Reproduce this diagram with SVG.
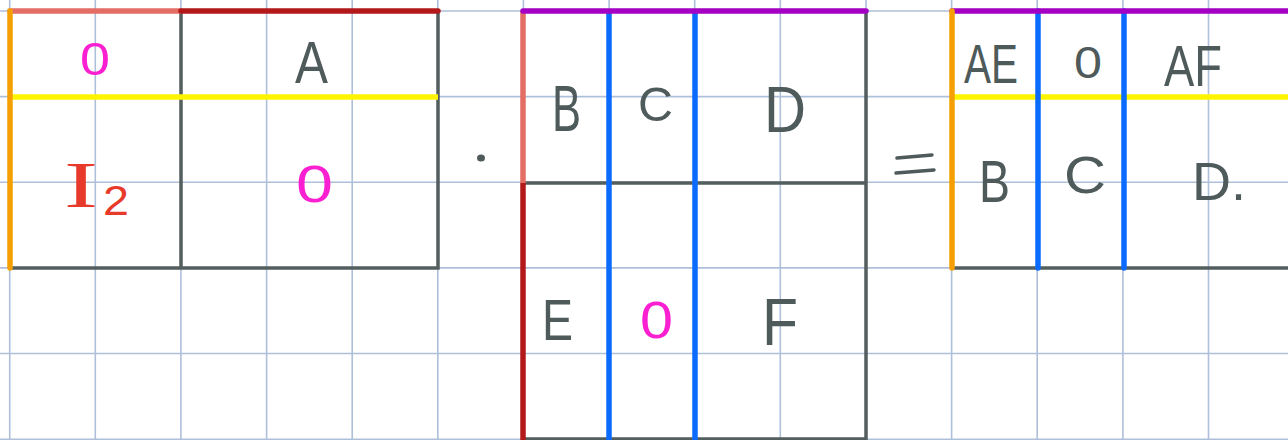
<svg xmlns="http://www.w3.org/2000/svg" width="1288" height="440" viewBox="0 0 1288 440">
<style>
.grid line{stroke:#aebfda;stroke-width:1.6}
.k{stroke:#535e5e;stroke-width:3.5;stroke-linecap:square;fill:none}
.w{stroke-width:5.5;stroke-linecap:round;fill:none}
.or{stroke:#f5a000}.ye{stroke:#fff400}.sa{stroke:#e46d66}.dr{stroke:#b3191b}.pu{stroke:#a300c4}.bl{stroke:#0b6bff}
text{font-family:"Liberation Sans",Arial,sans-serif;fill:#4f5a5a}
.m{fill:#fb1fd2}.r{fill:#e83a2a}
</style>
<rect width="1288" height="440" fill="#ffffff"/>
<g class="grid" id="grid">
<line x1="9.7" y1="0" x2="9.7" y2="440"/><line x1="95.3" y1="0" x2="95.3" y2="440"/><line x1="180.9" y1="0" x2="180.9" y2="440"/><line x1="266.6" y1="0" x2="266.6" y2="440"/><line x1="352.2" y1="0" x2="352.2" y2="440"/><line x1="437.8" y1="0" x2="437.8" y2="440"/><line x1="523.4" y1="0" x2="523.4" y2="440"/><line x1="609.1" y1="0" x2="609.1" y2="440"/><line x1="694.7" y1="0" x2="694.7" y2="440"/><line x1="780.3" y1="0" x2="780.3" y2="440"/><line x1="866" y1="0" x2="866" y2="440"/><line x1="951.6" y1="0" x2="951.6" y2="440"/><line x1="1037.2" y1="0" x2="1037.2" y2="440"/><line x1="1122.9" y1="0" x2="1122.9" y2="440"/><line x1="1208.5" y1="0" x2="1208.5" y2="440"/>
<line x1="0" y1="11" x2="1288" y2="11"/><line x1="0" y1="96.6" x2="1288" y2="96.6"/><line x1="0" y1="182.3" x2="1288" y2="182.3"/><line x1="0" y1="267.9" x2="1288" y2="267.9"/><line x1="0" y1="353.5" x2="1288" y2="353.5"/><line x1="0" y1="439.2" x2="1288" y2="439.2"/>
</g>
<g id="matrix1">
<path class="k" d="M10,268 H438 V11 M181,11 V268"/>
<line class="w ye" x1="10" y1="97" x2="438" y2="97" style="stroke-linecap:butt"/>
<line class="w sa" x1="10" y1="11" x2="181" y2="11"/>
<line class="w dr" x1="181" y1="11" x2="438" y2="11"/>
<line class="w or" x1="10" y1="11" x2="10" y2="268"/>
<text class="m" x="80" y="75" font-size="46" textLength="30" lengthAdjust="spacingAndGlyphs">0</text>
<text x="295" y="83" font-size="60" textLength="33" lengthAdjust="spacingAndGlyphs">A</text>
<text class="r" x="64" y="207" font-size="66" style="font-family:'Liberation Serif',serif" textLength="34" lengthAdjust="spacingAndGlyphs">I</text>
<text class="r" x="103" y="215" font-size="42" textLength="26" lengthAdjust="spacingAndGlyphs">2</text>
<text class="m" x="296" y="202" font-size="52" textLength="37" lengthAdjust="spacingAndGlyphs">0</text>
</g>
<g id="dot"><ellipse cx="481" cy="158" rx="4" ry="3.5" fill="#4f5a5a"/></g>
<g id="matrix2">
<path class="k" d="M523,183 H866 M866,11 V439 M523,439 H866"/>
<line class="w bl" x1="609" y1="11" x2="609" y2="440" style="stroke-linecap:butt"/>
<line class="w bl" x1="695" y1="11" x2="695" y2="440" style="stroke-linecap:butt"/>
<line class="w sa" x1="523" y1="11" x2="523" y2="183" style="stroke-linecap:butt"/>
<line class="w dr" x1="523" y1="183" x2="523" y2="440" style="stroke-linecap:butt"/>
<line class="w pu" x1="523" y1="11" x2="866" y2="11"/>
<text x="552" y="131" font-size="64" textLength="29" lengthAdjust="spacingAndGlyphs">B</text>
<text x="638" y="121" font-size="48" textLength="35" lengthAdjust="spacingAndGlyphs">C</text>
<text x="764" y="132" font-size="64" textLength="42" lengthAdjust="spacingAndGlyphs">D</text>
<text x="542" y="340" font-size="58" textLength="31" lengthAdjust="spacingAndGlyphs">E</text>
<text class="m" x="640" y="338" font-size="52" textLength="33" lengthAdjust="spacingAndGlyphs">0</text>
<text x="762" y="345" font-size="66" textLength="36" lengthAdjust="spacingAndGlyphs">F</text>
</g>
<g id="equals"><path d="M897,158 L932,155 M896,173 L934,170" stroke="#4f5a5a" stroke-width="3.5" stroke-linecap="round" fill="none"/></g>
<g id="matrix3">
<line class="k" x1="952" y1="268" x2="1288" y2="268"/>
<line class="w ye" x1="952" y1="97" x2="1288" y2="97" style="stroke-linecap:butt"/>
<line class="w bl" x1="1038" y1="11" x2="1038" y2="268"/>
<line class="w bl" x1="1124" y1="11" x2="1124" y2="268"/>
<line class="w pu" x1="952" y1="11" x2="1290" y2="11"/>
<line class="w or" x1="952" y1="11" x2="952" y2="268"/>
<text x="964" y="83" font-size="56" textLength="54" lengthAdjust="spacingAndGlyphs">AE</text>
<text x="1074" y="78" font-size="44" textLength="28" lengthAdjust="spacingAndGlyphs">0</text>
<text x="1164" y="86" font-size="58" textLength="58" lengthAdjust="spacingAndGlyphs">AF</text>
<text x="979" y="202" font-size="60" textLength="31" lengthAdjust="spacingAndGlyphs">B</text>
<text x="1064" y="193" font-size="52" textLength="42" lengthAdjust="spacingAndGlyphs">C</text>
<text x="1192" y="200" font-size="54" textLength="54" lengthAdjust="spacingAndGlyphs">D.</text>
</g>
</svg>
